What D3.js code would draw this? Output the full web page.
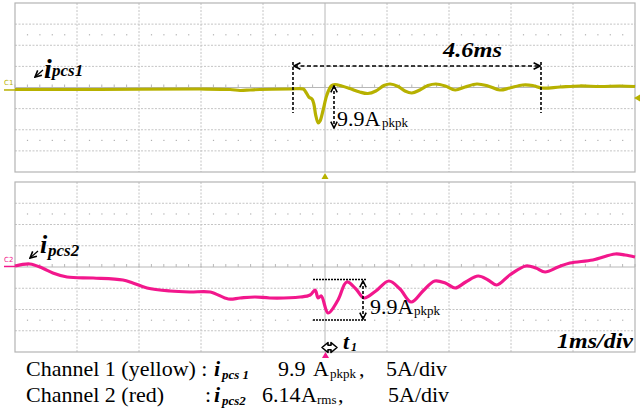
<!doctype html>
<html>
<head>
<meta charset="utf-8">
<title>ipcs1 / ipcs2</title>
<script src="https://d3js.org/d3.v7.min.js"></script>
<style>
  body { margin: 0; background: #fff; }
  svg { display: block; }
</style>
</head>
<body>
<svg width="640" height="410"></svg>
<script>
// scope divisions: 1 ms/div on time, 5 A/div on current, trigger at t = 0
var timeDivs = d3.range(-5, 6, 1),
  ampDivs = d3.range(-20, 21, 5),
  minorSteps = d3.range(-5, 5.001, 0.2);

// channel 1 (yellow) i_pcs1 : time (ms), current (A)
var t1 = [-5.00, -3.63, -2.02, -1.53, -1.37, -1.21, -1.05, -0.56, -0.35, -0.31, -0.26, -0.21, -0.18, -0.15, -0.11,
  -0.08, -0.03, 0.03, 0.10, 0.16, 0.27, 0.40, 0.56, 0.69, 0.82, 0.95, 1.05, 1.18, 1.29, 1.40, 1.53, 1.66, 1.79,
  1.94, 2.10, 2.26, 2.45, 2.63, 2.82, 2.98, 3.19, 3.35, 3.50, 3.79, 4.11, 4.44, 4.76, 5.00];
var i1 = [-0.47, -0.47, -0.36, -0.47, -0.71, -0.59, -0.47, -0.36, -0.36, -1.07, -2.25, -2.72, -3.91, -6.51, -8.40,
  -7.93, -5.33, -1.78, 0.36, 0.71, 0.36, -0.24, -1.07, -1.42, -0.83, 0.47, 0.83, 0.24, -0.83, -1.30, -0.59, 0.47, 0.83,
  0.36, -0.59, 0.12, 0.83, 0.36, -0.59, -0.12, 0.59, 0.47, -0.12, 0.12, 0.36, 0.24, 0.36, 0.24];

// channel 2 (red) i_pcs2 : time (ms), current (A)
var t2 = [-5.00, -4.76, -4.56, -4.39, -4.16, -3.74, -3.26, -3.10, -2.87, -2.50, -2.18, -1.85, -1.56, -1.37, -1.13,
  -0.89, -0.40, -0.24, -0.16, -0.11, -0.06, 0.05, 0.21, 0.35, 0.50, 0.63, 0.82, 1.03, 1.21, 1.39, 1.58, 1.77, 1.94,
  2.10, 2.27, 2.47, 2.63, 2.77, 2.98, 3.24, 3.40, 3.55, 3.76, 3.95, 4.32, 4.68, 4.84, 5.00];
var i2 = [0.24, 0.71, -0.24, -1.41, -2.35, -2.59, -3.06, -3.76, -4.94, -5.65, -5.88, -5.88, -7.53, -7.29, -7.06,
  -7.29, -7.06, -6.59, -5.41, -7.29, -6.82, -10.82, -7.76, -3.53, -5.18, -7.29, -5.65, -3.29, -5.18, -8.24, -5.65, -3.29, -3.76,
  -4.94, -3.53, -2.12, -3.06, -4.24, -1.88, 0.24, -0.24, -1.18, 0.00, 0.94, 1.65, 3.06, 2.82, 2.35];

var serif = "Liberation Serif";

var svg = d3.select("svg");

var x = d3.scaleLinear().domain([-5, 5]).range([15, 635]);

var panels = [
  { name: "C1", top: 3, bottom: 172, t: t1, v: i1, color: "#b7b100" },
  { name: "C2", top: 182, bottom: 352, t: t2, v: i2, color: "#f2178c" }
];

panels.forEach(function(p) {
  p.y = d3.scaleLinear().domain([-20, 20]).range([p.bottom, p.top]);
});

var defs = svg.append("defs");
defs.append("marker")
  .attr("id", "head")
  .attr("viewBox", "0 0 10 10")
  .attr("refX", 9).attr("refY", 5)
  .attr("markerWidth", 8).attr("markerHeight", 8)
  .attr("markerUnits", "userSpaceOnUse")
  .attr("orient", "auto-start-reverse")
  .append("path")
  .attr("d", "M1,1 L9,5 L1,9")
  .attr("fill", "none")
  .attr("stroke", "#000")
  .attr("stroke-width", 2);

function drawPanel(p) {
  var g = svg.append("g");
  var y = p.y;

  // dotted grid
  g.selectAll(".vgrid")
    .data(timeDivs.filter(function(d) { return d > -5 && d < 5; }))
    .enter().append("line")
    .attr("x1", function(d) { return x(d); }).attr("x2", function(d) { return x(d); })
    .attr("y1", p.top).attr("y2", p.bottom)
    .attr("stroke", function(d) { return d == 0 ? "#b8b8b8" : "#c4c4c4"; })
    .attr("stroke-dasharray", function(d) { return d == 0 ? null : "2,1.5"; })
    .attr("stroke-width", 1);

  g.selectAll(".hgrid")
    .data(ampDivs.filter(function(d) { return d > -20 && d < 20; }))
    .enter().append("line")
    .attr("x1", x(-5)).attr("x2", x(5))
    .attr("y1", function(d) { return y(d); }).attr("y2", function(d) { return y(d); })
    .attr("stroke", function(d) { return d == 0 ? "#b8b8b8" : "#c4c4c4"; })
    .attr("stroke-dasharray", function(d) { return d == 0 ? null : "2,1.5"; })
    .attr("stroke-width", 1);

  // minor ticks on the centre line
  g.selectAll(".tick")
    .data(minorSteps)
    .enter().append("line")
    .attr("x1", function(d) { return x(d); }).attr("x2", function(d) { return x(d); })
    .attr("y1", y(0) - 3).attr("y2", y(0))
    .attr("stroke", "#b8b8b8");

  // sparse dot rows
  [12.5, -12.5].forEach(function(a) {
    g.selectAll(null)
      .data(minorSteps.filter(function(d) { return Math.abs(d - Math.round(d)) > 0.05; }))
      .enter().append("rect")
      .attr("x", function(d) { return x(d) - 0.5; })
      .attr("y", y(a) - 0.5)
      .attr("width", 1.2).attr("height", 1.2)
      .attr("fill", "#b0b0b0");
  });

  // frame
  g.append("rect")
    .attr("x", x(-5)).attr("y", p.top)
    .attr("width", x(5) - x(-5)).attr("height", p.bottom - p.top)
    .attr("fill", "none")
    .attr("stroke", "#b4b4b4")
    .attr("stroke-width", 1.2);

  // trace
  var line = d3.line()
    .x(function(d, i) { return x(p.t[i]); })
    .y(function(d) { return y(d); })
    .curve(d3.curveCatmullRom.alpha(0.5));

  g.append("path")
    .datum(p.v)
    .attr("d", line)
    .attr("fill", "none")
    .attr("stroke", p.color)
    .attr("stroke-width", 3.2)
    .attr("stroke-linejoin", "round");

  // channel ground marker
  g.append("line")
    .attr("x1", 4).attr("x2", x(-5))
    .attr("y1", y(p.v[0]) + 0.5).attr("y2", y(p.v[0]) + 0.5)
    .attr("stroke", p.color).attr("stroke-width", 1.5);
  g.append("text")
    .attr("x", 4).attr("y", y(p.v[0]) - 4)
    .attr("font-family", "DejaVu Sans")
    .attr("font-size", 7)
    .attr("fill", p.color)
    .text(p.name);
}

panels.forEach(drawPanel);

var p1 = panels[0], p2 = panels[1];

// trigger markers
svg.append("path")
  .attr("d", d3.line()([[x(0), 173], [x(0) - 3.5, 179], [x(0) + 3.5, 179]]))
  .attr("fill", p1.color);
svg.append("path")
  .attr("d", d3.line()([[x(5) - 1, p1.y(-2.5)], [640, p1.y(-2.5) - 3.5], [640, p1.y(-2.5) + 3.5]]))
  .attr("fill", p1.color);
svg.append("path")
  .attr("d", d3.line()([[x(0) + 0.5, 352], [x(0) - 3, 358], [x(0) + 4, 358]]))
  .attr("fill", p2.color);

// text helper: serif, optional bold italic
function label(xp, yp, size, s, bi) {
  var t = svg.append("text")
    .attr("x", xp).attr("y", yp)
    .attr("font-family", serif)
    .attr("font-size", size)
    .attr("fill", "#000")
    .text(s);
  if (bi) t.attr("font-weight", "bold").attr("font-style", "italic");
  return t;
}

// dashed annotations
function dashed(pts, dash, heads) {
  var path = svg.append("path")
    .attr("d", d3.line()(pts))
    .attr("fill", "none")
    .attr("stroke", "#000")
    .attr("stroke-width", 1.6)
    .attr("stroke-dasharray", dash);
  if (heads) {
    path.attr("marker-start", "url(#head)").attr("marker-end", "url(#head)");
  }
  return path;
}

// 4.6 ms span
dashed([[293, 62], [293, 113]], "3,2");
dashed([[541, 62], [541, 113]], "3,2");
dashed([[294, 66], [540, 66]], "4,2.5", true);
label(443, 57, 21, "4.6ms", true)
  .attr("textLength", 59).attr("lengthAdjust", "spacingAndGlyphs");

// 9.9 A pkpk, channel 1
dashed([[334, 86], [334, 128]], "3,2", true);
label(337, 126, 22, "9.9A");
label(382, 127, 13, "pkpk");

// 9.9 A pkpk, channel 2
dashed([[313, 279.5], [367, 279.5]], "2,1");
dashed([[313, 320], [367, 320]], "2,1");
dashed([[363, 281], [363, 319]], "3,2", true);
label(370, 314, 22, "9.9A");
label(414, 315, 13, "pkpk");

// channel labels with small arrows
function chLabel(ax, ay, ix, iy, iSize, sub, sx, sy, sSize) {
  svg.append("path")
    .attr("d", d3.line()([[ax + 8, ay - 7], [ax, ay]]))
    .attr("stroke", "#000").attr("stroke-width", 1.2)
    .attr("marker-end", "url(#head)");
  label(ix, iy, iSize, "i", true);
  label(sx, sy, sSize, sub, true);
}
chLabel(35, 77, 44, 78, 28, "pcs1", 52, 76, 17);
chLabel(30, 258, 40, 253, 26, "pcs2", 48, 256, 17);

// time base and t1
label(557, 348, 22, "1ms/div", true)
  .attr("textLength", 76).attr("lengthAdjust", "spacingAndGlyphs");

svg.append("path")
  .attr("d", "M322,347.5 L328,342.5 L328,345.2 L331,345.2 L331,342.5 L337,347.5 L331,352.5 L331,349.8 L328,349.8 L328,352.5 Z")
  .attr("fill", "#fff").attr("stroke", "#000").attr("stroke-width", 1.6).attr("stroke-linejoin", "round");
label(343, 349, 22, "t", true);
label(351, 351, 12, "1", true);

// legend lines
label(26, 376, 22, "Channel 1 (yellow) :");
label(214, 376, 22, "i", true);
label(222, 379, 13, "pcs 1", true);
label(278, 376, 22, "9.9");
label(313, 376, 22, "A");
label(330, 378, 13, "pkpk");
label(359, 376, 22, ",");
label(386, 376, 22, "5A/div");

label(26, 402, 22, "Channel 2 (red)");
label(205, 402, 22, ":");
label(214, 402, 22, "i", true);
label(222, 405, 13, "pcs2", true);
label(262, 402, 22, "6.14");
label(301, 402, 22, "A");
label(317, 404, 13, "rms");
label(338, 402, 22, ",");
label(388, 402, 22, "5A/div");
</script>
</body>
</html>
